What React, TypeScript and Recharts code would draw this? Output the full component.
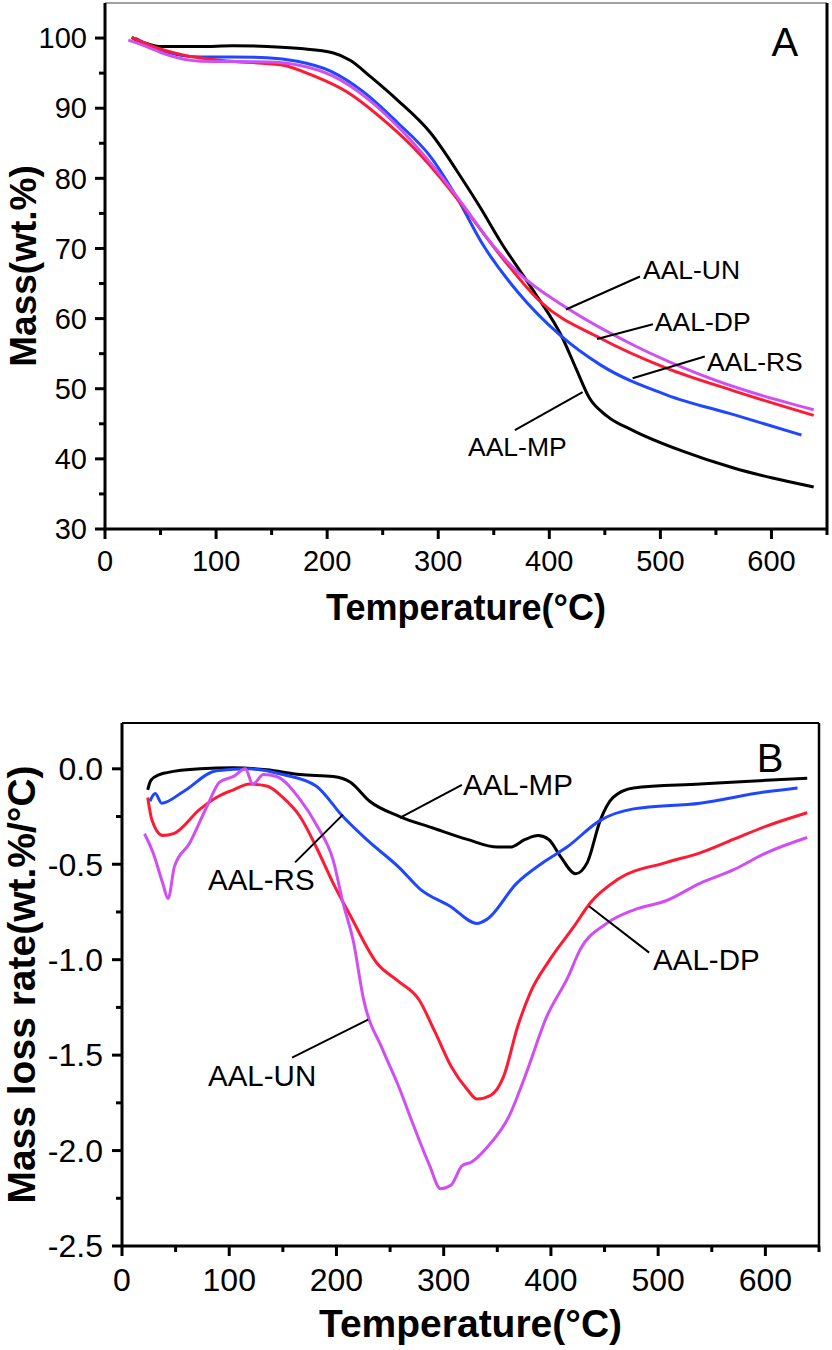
import React from "react";
import {
    LineChart,
    Line,
    XAxis,
    YAxis,
    ReferenceLine,
    ReferenceDot,
} from "recharts";

const FONT = '"Liberation Sans", Arial, Helvetica, sans-serif';

const BLACK = "#000000";
const BLUE = "#1f47ff";
const RED = "#ff1a33";
const MAGENTA = "#cf4ff2";

// ---- panel A: mass (wt.%) vs temperature ----
const mpTempA = [24, 30, 40, 50, 86, 115, 146, 176, 205, 221, 239, 263, 293, 322, 338, 356, 386, 412, 424, 436, 452, 476, 520, 566, 600, 638];
const mpMass = [100.1, 99.6, 99.1, 98.8, 98.8, 98.9, 98.8, 98.5, 97.9, 96.8, 94.5, 91.2, 86.5, 79.8, 75.8, 71.0, 63.9, 57.2, 52.9, 48.7, 46.1, 44.0, 41.1, 38.7, 37.3, 36.0];

const rsTempA = [27, 40, 56, 86, 113, 146, 173, 203, 233, 263, 293, 317, 340, 371, 410, 446, 506, 566, 627];
const rsMass = [100.0, 99.0, 98.0, 97.3, 97.3, 97.2, 96.7, 95.3, 92.3, 88.0, 83.1, 77.2, 70.6, 63.9, 57.6, 53.4, 49.1, 46.3, 43.4];

const dpTempA = [24, 40, 70, 113, 158, 188, 218, 248, 277, 308, 329, 356, 392, 446, 506, 566, 638];
const dpMass = [100.1, 99.0, 97.6, 96.7, 96.2, 94.6, 92.3, 88.7, 84.5, 78.9, 74.6, 69.0, 62.4, 57.2, 52.9, 49.7, 46.2];

const unTempA = [21, 34, 56, 86, 146, 176, 205, 236, 263, 293, 322, 345, 371, 416, 476, 536, 638];
const unMass = [99.7, 99.0, 97.6, 96.7, 96.6, 96.1, 94.6, 91.4, 87.5, 82.2, 76.3, 71.3, 66.7, 61.5, 56.2, 52.0, 47.0];

// ---- panel B: mass loss rate (wt.%/°C) vs temperature ----
const mpTempB = [24, 27, 35, 42, 73, 104, 135, 166, 197, 213, 231, 259, 290, 322, 350, 362, 376, 388, 398, 409, 423, 434, 446, 458, 477, 539, 601, 639];
const mpRate = [-0.11, -0.06, -0.03, -0.02, 0.0, 0.005, -0.005, -0.03, -0.04, -0.07, -0.17, -0.25, -0.31, -0.37, -0.41, -0.41, -0.37, -0.35, -0.37, -0.46, -0.55, -0.49, -0.27, -0.15, -0.1, -0.08, -0.06, -0.05];

const rsTempB = [26, 31, 37, 57, 88, 119, 150, 181, 206, 228, 259, 278, 306, 331, 340, 368, 393, 415, 446, 477, 539, 601, 630];
const rsRate = [-0.17, -0.13, -0.18, -0.12, -0.01, 0.0, -0.03, -0.09, -0.25, -0.37, -0.52, -0.63, -0.72, -0.81, -0.79, -0.6, -0.49, -0.41, -0.27, -0.21, -0.18, -0.12, -0.1];

const dpTempB = [24, 28, 38, 48, 73, 88, 104, 119, 135, 150, 166, 182, 197, 213, 238, 257, 277, 292, 307, 322, 331, 344, 356, 369, 381, 399, 421, 437, 462, 508, 539, 570, 601, 639];
const dpRate = [-0.15, -0.27, -0.35, -0.34, -0.21, -0.15, -0.11, -0.08, -0.09, -0.15, -0.25, -0.42, -0.6, -0.77, -1.02, -1.11, -1.21, -1.38, -1.56, -1.68, -1.73, -1.71, -1.61, -1.35, -1.17, -1.0, -0.83, -0.7, -0.58, -0.49, -0.44, -0.37, -0.3, -0.23];

const unTempB = [21, 29, 38, 43, 49, 63, 79, 91, 104, 115, 122, 132, 144, 166, 182, 197, 206, 216, 225, 243, 257, 272, 287, 297, 307, 317, 326, 341, 361, 376, 396, 416, 427, 452, 477, 508, 539, 570, 601, 639];
const unRate = [-0.34, -0.44, -0.6, -0.68, -0.51, -0.39, -0.2, -0.07, -0.04, 0.0, -0.08, -0.03, -0.04, -0.16, -0.3, -0.48, -0.7, -0.91, -1.2, -1.47, -1.65, -1.87, -2.08, -2.2, -2.18, -2.08, -2.06, -1.98, -1.82, -1.61, -1.3, -1.09, -0.95, -0.81, -0.74, -0.69, -0.6, -0.53, -0.44, -0.36];

// tick values
const tempTicks = [0, 50, 100, 150, 200, 250, 300, 350, 400, 450, 500, 550, 600, 650];
const massTicks = [30, 35, 40, 45, 50, 55, 60, 65, 70, 75, 80, 85, 90, 95, 100];
const rateTicks = [-2.5, -2.25, -2, -1.75, -1.5, -1.25, -1, -0.75, -0.5, -0.25, 0];

const pts = (t: number[], v: number[]) => t.map((x, i) => ({ t: x, v: v[i] }));

const TICK = 10;
const MINOR = 6;

function BottomTick(props: any) {
    const { x, y, payload, gap, fontSize, isMajor } = props;
    const v = payload.value;
    const major = isMajor(v);
    const axisY = y - TICK - gap;
    return (
        <g>
            <line x1={x} x2={x} y1={axisY} y2={axisY + (major ? TICK : MINOR)} stroke="#000" strokeWidth={3} />
            {major && (
                <text x={x} y={y} dy="0.71em" textAnchor="middle" fontSize={fontSize} fontFamily={FONT} fill="#000">
                    {v}
                </text>
            )}
        </g>
    );
}

function LeftTick(props: any) {
    const { x, y, payload, gap, fontSize, isMajor, fmt } = props;
    const v = payload.value;
    const major = isMajor(v);
    const axisX = x + TICK + gap;
    return (
        <g>
            <line x1={axisX} x2={axisX - (major ? TICK : MINOR)} y1={y} y2={y} stroke="#000" strokeWidth={3} />
            {major && (
                <text x={x} y={y} dy="0.355em" textAnchor="end" fontSize={fontSize} fontFamily={FONT} fill="#000">
                    {fmt(v)}
                </text>
            )}
        </g>
    );
}

const seriesLine = (data: any[], color: string, key: string) => (
    <Line
        key={key}
        data={data}
        dataKey="v"
        type="monotone"
        stroke={color}
        strokeWidth={3}
        dot={false}
        activeDot={false}
        isAnimationActive={false}
    />
);

const note = (key: string, text: string, tx: number, ty: number, seg: [number, number, number, number], size: number) => [
    <ReferenceLine
        key={key + "-l"}
        segment={[{ x: seg[0], y: seg[1] }, { x: seg[2], y: seg[3] }]}
        stroke="#000"
        strokeWidth={2}
    />,
    <ReferenceDot
        key={key + "-t"}
        x={tx}
        y={ty}
        r={0.01}
        fill="none"
        stroke="none"
        label={{ value: text, position: "right", offset: 0, fontSize: size, fontFamily: FONT, fill: "#000" }}
    />,
];

function PanelA() {
    return (
        <LineChart width={832} height={650} margin={{ top: 3, right: 5, bottom: 26, left: 0 }}>
            <XAxis
                type="number"
                dataKey="t"
                domain={[0, 650]}
                ticks={tempTicks}
                interval={0}
                height={95}
                tickSize={TICK}
                tickMargin={11}
                tickLine={false}
                axisLine={{ stroke: "#000", strokeWidth: 3 }}
                tick={<BottomTick gap={11} fontSize={29} isMajor={(v: number) => v % 100 === 0} />}
                label={{ value: "Temperature(°C)", position: "insideBottom", offset: 4, fontSize: 36, fontWeight: "bold", fontFamily: FONT, fill: "#000" }}
            />
            <YAxis
                type="number"
                domain={[30, 105]}
                ticks={massTicks}
                interval={0}
                width={105}
                tickSize={TICK}
                tickMargin={8}
                tickLine={false}
                axisLine={{ stroke: "#000", strokeWidth: 3 }}
                tick={<LeftTick gap={8} fontSize={29} isMajor={(v: number) => v % 10 === 0} fmt={(v: number) => String(v)} />}
                label={{ value: "Mass(wt.%)", angle: -90, position: "insideLeft", offset: 23, fontSize: 37, fontWeight: "bold", fontFamily: FONT, fill: "#000", style: { textAnchor: "middle" } }}
            />
            <ReferenceLine y={105} stroke="#808080" strokeWidth={1.5} />
            <ReferenceLine x={650} stroke="#000" strokeWidth={3} />
            {seriesLine(pts(mpTempA, mpMass), BLACK, "mp")}
            {seriesLine(pts(rsTempA, rsMass), BLUE, "rs")}
            {seriesLine(pts(dpTempA, dpMass), RED, "dp")}
            {seriesLine(pts(unTempA, unMass), MAGENTA, "un")}
            {note("a-un", "AAL-UN", 484.3, 67.0, [415, 61.3, 481.6, 66.0], 26.5)}
            {note("a-dp", "AAL-DP", 495, 59.6, [443, 57.1, 493.3, 59.2], 26.5)}
            {note("a-rs", "AAL-RS", 542, 53.9, [475, 51.5, 540, 54.6], 26.5)}
            {note("a-mp", "AAL-MP", 326.8, 41.8, [430, 49.5, 369, 44.1], 26.5)}
            <ReferenceDot
                x={612}
                y={99.45}
                r={0.01}
                fill="none"
                stroke="none"
                label={{ value: "A", position: "center", fontSize: 40, fontFamily: FONT, fill: "#000" }}
            />
        </LineChart>
    );
}

function PanelB() {
    return (
        <LineChart width={832} height={700} margin={{ top: 73, right: 13, bottom: 9, left: 0 }}>
            <XAxis
                type="number"
                dataKey="t"
                domain={[0, 650]}
                ticks={tempTicks}
                interval={0}
                height={95}
                tickSize={TICK}
                tickMargin={12}
                tickLine={false}
                axisLine={{ stroke: "#000", strokeWidth: 3 }}
                tick={<BottomTick gap={12} fontSize={32} isMajor={(v: number) => v % 100 === 0} />}
                label={{ value: "Temperature(°C)", position: "insideBottom", offset: 4, fontSize: 39, fontWeight: "bold", fontFamily: FONT, fill: "#000" }}
            />
            <YAxis
                type="number"
                domain={[-2.5, 0.24]}
                ticks={rateTicks}
                interval={0}
                width={122}
                tickSize={TICK}
                tickMargin={9}
                tickLine={false}
                axisLine={{ stroke: "#000", strokeWidth: 3 }}
                tick={<LeftTick gap={9} fontSize={32} isMajor={(v: number) => Math.abs((v * 2) % 1) < 1e-9} fmt={(v: number) => v.toFixed(1)} />}
                label={{ value: "Mass loss rate(wt.%/°C)", angle: -90, position: "insideLeft", offset: 21, fontSize: 39, fontWeight: "bold", fontFamily: FONT, fill: "#000", style: { textAnchor: "middle" } }}
            />
            <ReferenceLine y={0.24} stroke="#000" strokeWidth={2} />
            <ReferenceLine x={650} stroke="#000" strokeWidth={2.5} />
            {seriesLine(pts(mpTempB, mpRate), BLACK, "mp")}
            {seriesLine(pts(rsTempB, rsRate), BLUE, "rs")}
            {seriesLine(pts(dpTempB, dpRate), RED, "dp")}
            {seriesLine(pts(unTempB, unRate), MAGENTA, "un")}
            {note("b-mp", "AAL-MP", 318, -0.084, [259, -0.257, 317, -0.084], 29.5)}
            {note("b-rs", "AAL-RS", 80.2, -0.581, [161.4, -0.49, 206, -0.24], 29.5)}
            {note("b-dp", "AAL-DP", 495.3, -1.0, [435.6, -0.72, 491.6, -0.963], 29.5)}
            {note("b-un", "AAL-UN", 80.2, -1.607, [229.5, -1.314, 158.6, -1.513], 29.5)}
            <ReferenceDot
                x={604.5}
                y={0.058}
                r={0.01}
                fill="none"
                stroke="none"
                label={{ value: "B", position: "center", fontSize: 40, fontFamily: FONT, fill: "#000" }}
            />
        </LineChart>
    );
}

export default function App() {
    return (
        <div style={{ position: "absolute", left: 0, top: 0, width: 832, height: 1350, background: "#fff" }}>
            <div style={{ position: "absolute", left: 0, top: 0 }}>
                <PanelA />
            </div>
            <div style={{ position: "absolute", left: 0, top: 650 }}>
                <PanelB />
            </div>
        </div>
    );
}
